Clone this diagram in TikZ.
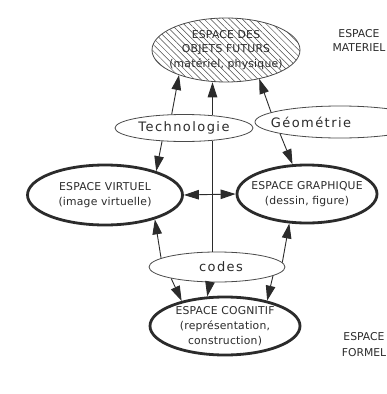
\documentclass[tikz,border=0pt]{standalone}
\usepackage{fontspec}
\setmainfont{DejaVu Sans}
\newfontfamily\spacedfont[LetterSpace=2]{DejaVu Sans}
\newfontfamily\widefont[LetterSpace=11]{DejaVu Sans}
\usetikzlibrary{shapes.geometric,arrows.meta,patterns.meta}
\definecolor{espink}{HTML}{2b2b2b}
\definecolor{esgray}{HTML}{4a4a4a}

\begin{document}
\begin{tikzpicture}[x=1pt,y=-1pt,
  esp/.style={ellipse,draw=esgray,line width=0.8pt,inner xsep=-15pt,inner ysep=-8pt,
    align=center,text=espink,font=\spacedfont\fontsize{10.8}{14.5}\selectfont},
  espfort/.style={esp,draw=espink,line width=2.8pt},
  motcle/.style={esp,font=\widefont\fontsize{13}{16}\selectfont},
  lien/.style={espink,line width=0.9pt},
  fl/.style={lien,-{Triangle[length=15pt,width=9.5pt]}}]
  \useasboundingbox (0,0) rectangle (387,394);
  \fill[white] (0,0) rectangle (387,394);
  % espaces
  \node[esp,minimum width=148pt,minimum height=64pt,
    pattern={Lines[angle=-45,distance=4.5pt,line width=0.5pt]},pattern color=esgray]
    (futur) at (226,50) {ESPACE DES\\OBJETS FUTURS\\(matériel, physique)};
  \node[espfort,minimum width=155pt,minimum height=60pt] (virt) at (105,195)
    {ESPACE VIRTUEL\\(image virtuelle)};
  \node[espfort,minimum width=140pt,minimum height=58pt] (graph) at (307,194)
    {ESPACE GRAPHIQUE\\(dessin, figure)};
  \node[espfort,minimum width=150pt,minimum height=58pt,font=\spacedfont\fontsize{10.8}{15}\selectfont]
    (cog) at (225,326) {ESPACE COGNITIF\\(représentation,\\construction)};
  % mediateurs
  \node[motcle,minimum width=138pt,minimum height=27pt] (tech) at (184,128) {Technologie};
  \node[motcle,minimum width=170pt,minimum height=32pt] (geo) at (340,122) {Géométrie\hspace*{58pt}};
  \node[motcle,minimum width=136pt,minimum height=30pt] (codes) at (217,267) {codes\hspace*{-8pt}};
  % niveaux
  \node[align=center,text=espink,font=\fontsize{10.8}{14}\selectfont] (mat) at (359,40) {ESPACE\\MATERIEL};
  \node[align=center,text=espink,font=\fontsize{10.8}{16}\selectfont] (form) at (364,345) {ESPACE\\FORMEL};
  % liens
  \draw[fl] (tech.132) -- (futur.208);
  \draw[fl] (tech.24) -- (tech.24 |- futur.south);
  \draw[fl] (geo.172) -- (futur.-41);
  \draw[lien] (tech.-24) -- (tech.-24 |- codes.north);
  \draw[fl] (tech.211) -- (virt.25);
  \draw[fl] (geo.191) -- (graph.116);
  \draw[lien,{Triangle[length=15pt,width=9.5pt]}-{Triangle[length=15pt,width=9.5pt]}] (virt.east) -- (graph.west);
  \draw[fl] (codes.171) -- (virt.-26);
  \draw[fl] (codes.4) -- (graph.239);
  \draw[fl] (codes.194) -- (cog.150);
  \draw[fl] (codes.245) -- (cog.121);
  \draw[fl] (codes.-9) -- (cog.31);
\end{tikzpicture}
\end{document}
